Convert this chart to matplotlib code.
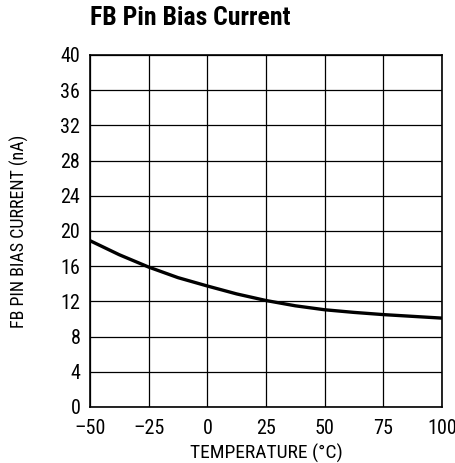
from matplotlib import pyplot as plt

temperature = [-50, -37.5, -25, -12.5, 0, 12.5, 25, 37.5, 50, 62.5, 75, 87.5, 100]
bias_current = [18.9, 17.3, 15.9, 14.7, 13.75, 12.85, 12.1, 11.5, 11.05, 10.75, 10.5, 10.3, 10.1]

x_ticks = [-50, -25, 0, 25, 50, 75, 100]
x_labels = ["\u201350", "\u201325", "0", "25", "50", "75", "100"]
y_ticks = [0, 4, 8, 12, 16, 20, 24, 28, 32, 36, 40]

plt.rcParams['font.family'] = ['Roboto Condensed', 'DejaVu Sans']

fig = plt.figure(figsize=(4.55, 4.63), dpi=100)
ax = fig.add_axes([90 / 455, 56 / 463, 352 / 455, 352 / 463])

ax.plot(temperature, bias_current, color='black', linewidth=2.4, solid_capstyle='butt')

ax.set_xlim(-50, 100)
ax.set_ylim(0, 40)
ax.set_xticks(x_ticks)
ax.set_xticklabels(x_labels)
ax.set_yticks(y_ticks)
ax.grid(True, color='black', linewidth=0.9)
ax.tick_params(axis='x', length=0, labelsize=14.5, pad=9)
ax.tick_params(axis='y', length=0, labelsize=14.5, pad=7)
for spine in ax.spines.values():
    spine.set_linewidth(1.2)

ax.set_xlabel("TEMPERATURE (\u00b0C)", fontsize=14, labelpad=4)
ax.set_ylabel("FB PIN BIAS CURRENT (nA)", fontsize=13, va='center')
ax.yaxis.set_label_coords(-0.2, 0.5)

fig.text(90 / 455, 1 - 18 / 463, "FB Pin Bias Current", fontsize=18.5, fontweight='bold',
         ha='left', va='center')

fig.savefig("out.png", dpi=100)
